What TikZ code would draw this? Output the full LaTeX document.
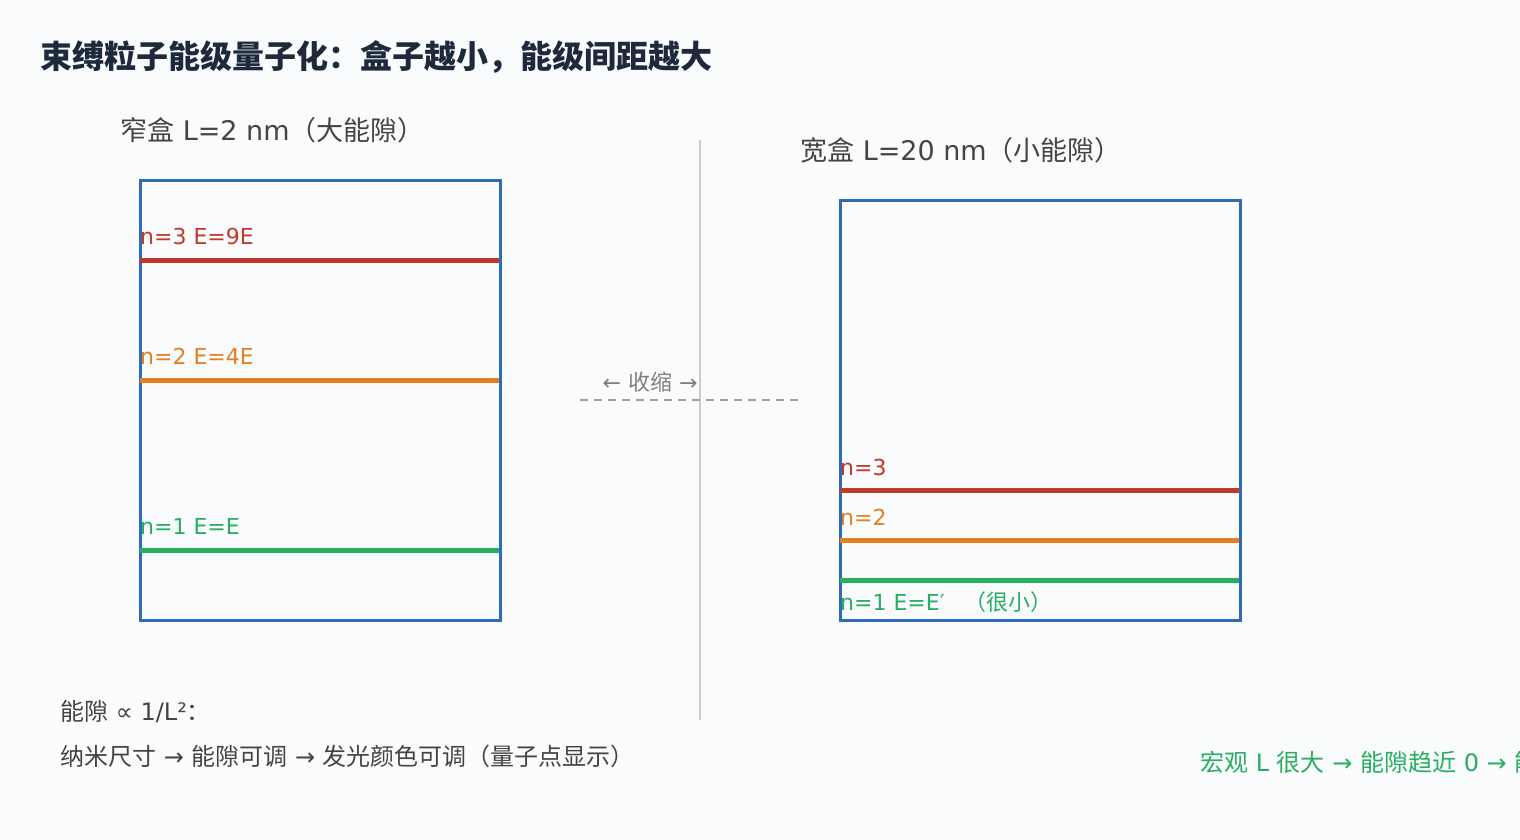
\documentclass[tikz,border=0pt]{standalone}
\usepackage{fontspec}
\setmainfont{Noto Sans CJK SC}
\newfontfamily\lat{DejaVu Sans}
\definecolor{bg}{HTML}{F9FBFD}
\definecolor{boxblue}{HTML}{2E6DB4}
\definecolor{lvlred}{HTML}{C0392B}
\definecolor{lvlorange}{HTML}{E67E22}
\definecolor{lvlgreen}{HTML}{27AE60}
\definecolor{titlenavy}{HTML}{1E293B}
\definecolor{txtgray}{HTML}{444444}
\tikzset{
  lbl/.style={anchor=west, inner sep=0pt, font=\fontsize{22}{26}\selectfont},
  note/.style={anchor=west, inner sep=0pt, font=\fontsize{24}{28}\selectfont},
  head/.style={anchor=west, inner sep=0pt, text=txtgray, font=\fontsize{27}{32}\selectfont},
  wall/.style={draw=boxblue, line width=3pt},
  level/.style={line width=5pt}
}
\begin{document}
\begin{tikzpicture}[x=1pt, y=-1pt]
    \fill[bg] (0, 0) rectangle (1520, 840);
    \clip (0, 0) rectangle (1520, 840);
    \node[anchor=west, inner sep=0pt, text=titlenavy, font=\fontsize{32}{38}\selectfont\bfseries] (title) at (40, 57) {束缚粒子能级量子化：盒子越小，能级间距越大};
    % narrow box
    \node[head] (narrowhead) at (120, 130) {窄盒{\lat{} L=2 nm}（大能隙）};
    \draw[wall] (140, 180) rectangle (500, 620);
    \coordinate (a3l) at (140, 260); \coordinate (a3r) at (499, 260);
    \coordinate (a2l) at (140, 380); \coordinate (a2r) at (499, 380);
    \coordinate (a1l) at (140, 550); \coordinate (a1r) at (499, 550);
    \draw[level, lvlred] (a3l) -- (a3r);
    \draw[level, lvlorange] (a2l) -- (a2r);
    \draw[level, lvlgreen] (a1l) -- (a1r);
    \node[lbl, text=lvlred] (na3) at (140, 236) {\lat n=3 E=9E};
    \node[lbl, text=lvlorange] (na2) at (140, 356) {\lat n=2 E=4E};
    \node[lbl, text=lvlgreen] (na1) at (140, 526) {\lat n=1 E=E};
    % divider and shrink hint
    \coordinate (divtop) at (700, 140); \coordinate (divbot) at (700, 720);
    \draw[gray!40, line width=1.5pt] (divtop) -- (divbot);
    \coordinate (dashl) at (580, 400); \coordinate (dashr) at (800, 400);
    \draw[gray!75, line width=2.5pt, dash pattern=on 8pt off 6pt] (dashl) -- (dashr);
    \node[inner sep=0pt, text=gray, font=\fontsize{22}{26}\selectfont] (shrink) at (650, 382) {{\lat ← }收缩{\lat{} →}};
    % wide box
    \node[head] (widehead) at (800, 150) {宽盒{\lat{} L=20 nm}（小能隙）};
    \draw[wall] (840, 200) rectangle (1240, 620);
    \coordinate (b3l) at (840, 490); \coordinate (b3r) at (1239, 490);
    \coordinate (b2l) at (840, 540); \coordinate (b2r) at (1239, 540);
    \coordinate (b1l) at (840, 580); \coordinate (b1r) at (1239, 580);
    \draw[level, lvlred] (b3l) -- (b3r);
    \draw[level, lvlorange] (b2l) -- (b2r);
    \draw[level, lvlgreen] (b1l) -- (b1r);
    \node[lbl, text=lvlred] (nb3) at (840, 467) {\lat n=3};
    \node[lbl, text=lvlorange] (nb2) at (840, 517) {\lat n=2};
    \node[lbl, text=lvlgreen] (nb1) at (840, 602) {{\lat n=1 E=E′}\hspace{20pt}（很小）};
    % notes
    \node[note, text=txtgray] (law) at (60, 712) {能隙{\lat{} ∝ 1/L²}：};
    \node[note, text=txtgray] (chain) at (60, 756) {纳米尺寸{\lat{} → }能隙可调{\lat{} → }发光颜色可调（量子点显示）};
    \node[note, text=lvlgreen] (macro) at (1200, 762) {宏观{\lat{} L }很大{\lat{} → }能隙趋近{\lat{} 0 → }能级连续};
\end{tikzpicture}
\end{document}
